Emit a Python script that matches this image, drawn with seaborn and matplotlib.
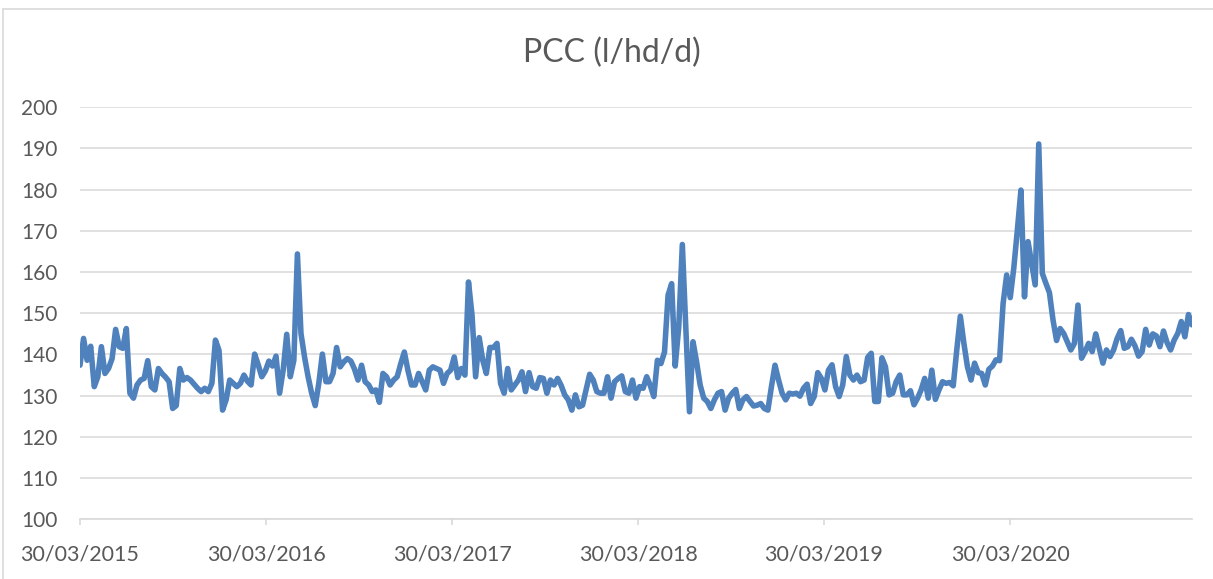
import numpy as np
import pandas as pd
import seaborn as sns
import matplotlib.pyplot as plt
import matplotlib.dates as mdates
from matplotlib.lines import Line2D

# Dados semanais (l/hd/d), a partir de 30/03/2015
start_date = "2015-03-30"
pcc = [
    137.4, 143.9, 138.6, 142.0, 132.2, 134.6, 141.9, 135.4, 136.6, 139.0,
    146.1, 141.9, 141.5, 146.3, 130.6, 129.4, 132.6, 133.8, 134.2, 138.5,
    132.2, 131.4, 136.6, 135.4, 134.5, 133.4, 126.9, 127.6, 136.6, 133.8,
    134.4, 133.8, 132.8, 131.8, 131.0, 131.8, 131.0, 133.0, 143.5, 141.0,
    126.5, 129.0, 133.8, 133.0, 132.2, 133.0, 135.0, 133.5, 132.6, 140.1,
    137.5, 134.6, 136.0, 138.4, 137.2, 139.6, 130.6, 136.2, 144.9, 134.6,
    138.6, 164.4, 145.1, 139.4, 134.6, 130.6, 127.6, 133.0, 140.1, 133.4,
    133.4, 135.4, 141.7, 137.0, 138.2, 139.0, 138.4, 136.5, 133.8, 137.4,
    133.4, 132.6, 131.0, 131.4, 128.4, 135.4, 134.6, 132.6, 133.8, 134.6,
    137.8, 140.6, 136.2, 132.6, 132.6, 135.4, 133.4, 131.4, 136.2, 137.0,
    136.6, 136.2, 133.0, 135.4, 136.2, 139.4, 134.4, 136.6, 135.0, 157.6,
    149.5, 134.6, 144.1, 138.6, 135.4, 141.7, 141.7, 142.7, 133.0, 130.6,
    136.6, 131.4, 132.6, 133.8, 135.8, 131.0, 135.6, 132.2, 131.8, 134.4,
    134.2, 130.6, 133.8, 132.6, 134.2, 132.5, 130.2, 129.0, 126.5, 130.2,
    127.3, 127.7, 131.4, 135.2, 133.8, 131.0, 130.6, 130.6, 134.6, 129.4,
    133.4, 134.2, 134.8, 131.0, 130.6, 133.8, 129.4, 132.2, 131.8, 134.6,
    132.5, 129.8, 138.6, 137.8, 140.6, 154.4, 157.2, 137.2, 146.7, 166.7,
    146.0, 126.1, 143.1, 138.2, 132.6, 129.4, 128.6, 126.9, 129.0, 130.6,
    131.0, 126.5, 129.4, 130.6, 131.5, 126.9, 129.0, 129.8, 128.6, 127.5,
    127.7, 128.1, 126.9, 126.5, 132.2, 137.4, 133.8, 130.6, 129.0, 130.6,
    130.4, 130.6, 129.9, 131.8, 132.8, 128.1, 129.8, 135.6, 134.2, 131.4,
    136.2, 137.5, 132.2, 129.8, 132.6, 139.5, 135.0, 133.8, 135.0, 133.4,
    133.8, 139.3, 140.3, 128.6, 128.6, 139.2, 137.0, 130.2, 130.6, 133.4,
    135.0, 130.2, 130.2, 131.2, 127.8, 129.4, 131.4, 134.2, 129.4, 136.2,
    129.1, 131.4, 133.4, 133.0, 133.2, 132.4, 141.1, 149.3, 142.7, 137.0,
    133.8, 137.9, 135.6, 135.4, 132.6, 136.4, 137.2, 138.7, 138.5, 152.4,
    159.3, 153.8, 161.0, 170.2, 179.9, 154.0, 167.4, 162.1, 156.9, 191.1,
    159.7, 157.3, 155.0, 148.4, 143.4, 146.3, 145.1, 143.1, 141.1, 142.7,
    152.0, 139.1, 140.7, 142.7, 140.7, 145.0, 141.5, 137.9, 141.1, 139.5,
    141.1, 143.9, 145.8, 141.5, 141.9, 143.7, 142.1, 139.6, 140.7, 146.1,
    142.3, 145.0, 144.5, 141.9, 145.7, 142.9, 141.1, 143.5, 145.1, 148.0,
    144.3, 149.7, 147.2,
]
tick_dates = ["2015-03-30", "2016-03-30", "2017-03-30", "2018-03-30", "2019-03-30", "2020-03-30"]
y_ticks = list(range(100, 201, 10))

df = pd.DataFrame({
    "data": pd.date_range(start_date, periods=len(pcc), freq="7D"),
    "pcc": pcc,
})

sns.set_theme(style="white")
plt.rcParams["font.family"] = ["Lato", "DejaVu Sans"]

grey = "#595959"
light = "#D9D9D9"

fig = plt.figure(figsize=(12.13, 5.79), dpi=100)
ax = fig.add_axes([80 / 1213, 1 - 519.3 / 579, (1192 - 80) / 1213, (519.3 - 107.3) / 579])

sns.lineplot(data=df, x="data", y="pcc", ax=ax, color="#4F81BD", linewidth=4.0)

ax.set_ylim(100, 200)
ax.set_xlim(df["data"].iloc[0], df["data"].iloc[-1])
ax.set_yticks(y_ticks)
ax.set_xticks(pd.to_datetime(tick_dates))
ax.xaxis.set_major_formatter(mdates.DateFormatter("%d/%m/%Y"))
ax.set_xlabel("")
ax.set_ylabel("")

ax.grid(axis="y", color=light, linewidth=1.1)
ax.set_axisbelow(True)
for side in ["top", "right", "left"]:
    ax.spines[side].set_visible(False)
ax.spines["bottom"].set_color(light)
ax.spines["bottom"].set_linewidth(1.2)

ax.tick_params(axis="y", length=0, labelsize=15, labelcolor=grey, pad=16)
ax.tick_params(axis="x", length=4, width=1.2, color=light, labelsize=15.5,
               labelcolor=grey, pad=14, bottom=True)

fig.text(612 / 1213, 1 - 53 / 579, "PCC (l/hd/d)", ha="center", va="center",
         fontsize=23, color=grey)

# bordas da área do gráfico (estilo Excel)
fig.add_artist(Line2D([3 / 1213, 1], [1 - 9 / 579, 1 - 9 / 579], color=light, linewidth=1.2))
fig.add_artist(Line2D([3 / 1213, 3 / 1213], [0, 1 - 9 / 579], color=light, linewidth=1.2))

fig.savefig("out.png", dpi=100, facecolor="white")
